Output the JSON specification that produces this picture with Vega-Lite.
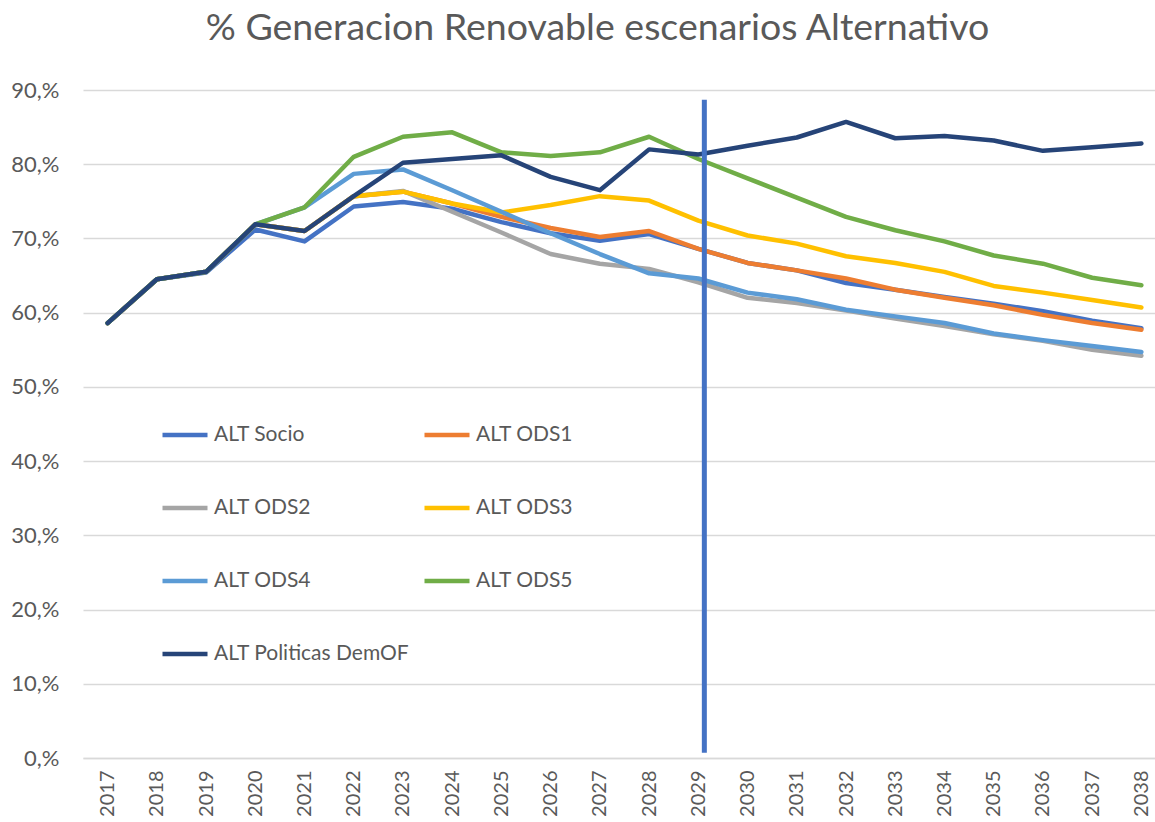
{
  "$schema": "https://vega.github.io/schema/vega-lite/v6.json",
  "autosize": {"type": "none"},
  "width": 1083,
  "height": 668,
  "padding": {"left": 83, "top": 90, "right": 0, "bottom": 64},
  "background": "white",
  "config": {
    "view": {"stroke": null},
    "font": "Lato",
    "text": {"font": "Lato"}
  },
  "title": {
    "text": "% Generacion Renovable escenarios Alternativo",
    "font": "Lato",
    "fontSize": 37.5,
    "fontWeight": "normal",
    "color": "#595959",
    "anchor": "middle",
    "frame": "group",
    "dx": -27,
    "offset": 32
  },
  "datasets": {
    "series": [
      {"year": "2017", "scenario": "ALT Socio", "value": 58.6},
      {"year": "2018", "scenario": "ALT Socio", "value": 64.5},
      {"year": "2019", "scenario": "ALT Socio", "value": 65.4},
      {"year": "2020", "scenario": "ALT Socio", "value": 71.2},
      {"year": "2021", "scenario": "ALT Socio", "value": 69.6},
      {"year": "2022", "scenario": "ALT Socio", "value": 74.3},
      {"year": "2023", "scenario": "ALT Socio", "value": 74.9},
      {"year": "2024", "scenario": "ALT Socio", "value": 74.0},
      {"year": "2025", "scenario": "ALT Socio", "value": 72.2},
      {"year": "2026", "scenario": "ALT Socio", "value": 70.7},
      {"year": "2027", "scenario": "ALT Socio", "value": 69.7},
      {"year": "2028", "scenario": "ALT Socio", "value": 70.6},
      {"year": "2029", "scenario": "ALT Socio", "value": 68.6},
      {"year": "2030", "scenario": "ALT Socio", "value": 66.7},
      {"year": "2031", "scenario": "ALT Socio", "value": 65.7},
      {"year": "2032", "scenario": "ALT Socio", "value": 64.0},
      {"year": "2033", "scenario": "ALT Socio", "value": 63.1},
      {"year": "2034", "scenario": "ALT Socio", "value": 62.1},
      {"year": "2035", "scenario": "ALT Socio", "value": 61.2},
      {"year": "2036", "scenario": "ALT Socio", "value": 60.2},
      {"year": "2037", "scenario": "ALT Socio", "value": 58.9},
      {"year": "2038", "scenario": "ALT Socio", "value": 57.9},

      {"year": "2017", "scenario": "ALT ODS1", "value": 58.6},
      {"year": "2018", "scenario": "ALT ODS1", "value": 64.5},
      {"year": "2019", "scenario": "ALT ODS1", "value": 65.5},
      {"year": "2020", "scenario": "ALT ODS1", "value": 71.9},
      {"year": "2021", "scenario": "ALT ODS1", "value": 71.0},
      {"year": "2022", "scenario": "ALT ODS1", "value": 75.7},
      {"year": "2023", "scenario": "ALT ODS1", "value": 76.3},
      {"year": "2024", "scenario": "ALT ODS1", "value": 74.7},
      {"year": "2025", "scenario": "ALT ODS1", "value": 72.9},
      {"year": "2026", "scenario": "ALT ODS1", "value": 71.4},
      {"year": "2027", "scenario": "ALT ODS1", "value": 70.2},
      {"year": "2028", "scenario": "ALT ODS1", "value": 71.0},
      {"year": "2029", "scenario": "ALT ODS1", "value": 68.6},
      {"year": "2030", "scenario": "ALT ODS1", "value": 66.7},
      {"year": "2031", "scenario": "ALT ODS1", "value": 65.7},
      {"year": "2032", "scenario": "ALT ODS1", "value": 64.6},
      {"year": "2033", "scenario": "ALT ODS1", "value": 63.1},
      {"year": "2034", "scenario": "ALT ODS1", "value": 62.0},
      {"year": "2035", "scenario": "ALT ODS1", "value": 61.0},
      {"year": "2036", "scenario": "ALT ODS1", "value": 59.7},
      {"year": "2037", "scenario": "ALT ODS1", "value": 58.6},
      {"year": "2038", "scenario": "ALT ODS1", "value": 57.7},

      {"year": "2017", "scenario": "ALT ODS2", "value": 58.6},
      {"year": "2018", "scenario": "ALT ODS2", "value": 64.5},
      {"year": "2019", "scenario": "ALT ODS2", "value": 65.5},
      {"year": "2020", "scenario": "ALT ODS2", "value": 71.9},
      {"year": "2021", "scenario": "ALT ODS2", "value": 71.0},
      {"year": "2022", "scenario": "ALT ODS2", "value": 75.7},
      {"year": "2023", "scenario": "ALT ODS2", "value": 76.4},
      {"year": "2024", "scenario": "ALT ODS2", "value": 73.6},
      {"year": "2025", "scenario": "ALT ODS2", "value": 70.8},
      {"year": "2026", "scenario": "ALT ODS2", "value": 67.9},
      {"year": "2027", "scenario": "ALT ODS2", "value": 66.6},
      {"year": "2028", "scenario": "ALT ODS2", "value": 65.9},
      {"year": "2029", "scenario": "ALT ODS2", "value": 64.1},
      {"year": "2030", "scenario": "ALT ODS2", "value": 62.0},
      {"year": "2031", "scenario": "ALT ODS2", "value": 61.3},
      {"year": "2032", "scenario": "ALT ODS2", "value": 60.3},
      {"year": "2033", "scenario": "ALT ODS2", "value": 59.2},
      {"year": "2034", "scenario": "ALT ODS2", "value": 58.2},
      {"year": "2035", "scenario": "ALT ODS2", "value": 57.1},
      {"year": "2036", "scenario": "ALT ODS2", "value": 56.2},
      {"year": "2037", "scenario": "ALT ODS2", "value": 55.0},
      {"year": "2038", "scenario": "ALT ODS2", "value": 54.2},

      {"year": "2017", "scenario": "ALT ODS3", "value": 58.6},
      {"year": "2018", "scenario": "ALT ODS3", "value": 64.5},
      {"year": "2019", "scenario": "ALT ODS3", "value": 65.5},
      {"year": "2020", "scenario": "ALT ODS3", "value": 71.9},
      {"year": "2021", "scenario": "ALT ODS3", "value": 71.0},
      {"year": "2022", "scenario": "ALT ODS3", "value": 75.7},
      {"year": "2023", "scenario": "ALT ODS3", "value": 76.3},
      {"year": "2024", "scenario": "ALT ODS3", "value": 74.7},
      {"year": "2025", "scenario": "ALT ODS3", "value": 73.5},
      {"year": "2026", "scenario": "ALT ODS3", "value": 74.5},
      {"year": "2027", "scenario": "ALT ODS3", "value": 75.7},
      {"year": "2028", "scenario": "ALT ODS3", "value": 75.1},
      {"year": "2029", "scenario": "ALT ODS3", "value": 72.4},
      {"year": "2030", "scenario": "ALT ODS3", "value": 70.4},
      {"year": "2031", "scenario": "ALT ODS3", "value": 69.3},
      {"year": "2032", "scenario": "ALT ODS3", "value": 67.6},
      {"year": "2033", "scenario": "ALT ODS3", "value": 66.7},
      {"year": "2034", "scenario": "ALT ODS3", "value": 65.5},
      {"year": "2035", "scenario": "ALT ODS3", "value": 63.6},
      {"year": "2036", "scenario": "ALT ODS3", "value": 62.7},
      {"year": "2037", "scenario": "ALT ODS3", "value": 61.7},
      {"year": "2038", "scenario": "ALT ODS3", "value": 60.7},

      {"year": "2017", "scenario": "ALT ODS4", "value": 58.6},
      {"year": "2018", "scenario": "ALT ODS4", "value": 64.5},
      {"year": "2019", "scenario": "ALT ODS4", "value": 65.5},
      {"year": "2020", "scenario": "ALT ODS4", "value": 71.9},
      {"year": "2021", "scenario": "ALT ODS4", "value": 74.2},
      {"year": "2022", "scenario": "ALT ODS4", "value": 78.7},
      {"year": "2023", "scenario": "ALT ODS4", "value": 79.3},
      {"year": "2024", "scenario": "ALT ODS4", "value": 76.5},
      {"year": "2025", "scenario": "ALT ODS4", "value": 73.6},
      {"year": "2026", "scenario": "ALT ODS4", "value": 70.7},
      {"year": "2027", "scenario": "ALT ODS4", "value": 67.9},
      {"year": "2028", "scenario": "ALT ODS4", "value": 65.3},
      {"year": "2029", "scenario": "ALT ODS4", "value": 64.6},
      {"year": "2030", "scenario": "ALT ODS4", "value": 62.7},
      {"year": "2031", "scenario": "ALT ODS4", "value": 61.8},
      {"year": "2032", "scenario": "ALT ODS4", "value": 60.4},
      {"year": "2033", "scenario": "ALT ODS4", "value": 59.5},
      {"year": "2034", "scenario": "ALT ODS4", "value": 58.6},
      {"year": "2035", "scenario": "ALT ODS4", "value": 57.2},
      {"year": "2036", "scenario": "ALT ODS4", "value": 56.3},
      {"year": "2037", "scenario": "ALT ODS4", "value": 55.5},
      {"year": "2038", "scenario": "ALT ODS4", "value": 54.7},

      {"year": "2017", "scenario": "ALT ODS5", "value": 58.6},
      {"year": "2018", "scenario": "ALT ODS5", "value": 64.5},
      {"year": "2019", "scenario": "ALT ODS5", "value": 65.5},
      {"year": "2020", "scenario": "ALT ODS5", "value": 71.9},
      {"year": "2021", "scenario": "ALT ODS5", "value": 74.2},
      {"year": "2022", "scenario": "ALT ODS5", "value": 81.0},
      {"year": "2023", "scenario": "ALT ODS5", "value": 83.7},
      {"year": "2024", "scenario": "ALT ODS5", "value": 84.3},
      {"year": "2025", "scenario": "ALT ODS5", "value": 81.6},
      {"year": "2026", "scenario": "ALT ODS5", "value": 81.1},
      {"year": "2027", "scenario": "ALT ODS5", "value": 81.6},
      {"year": "2028", "scenario": "ALT ODS5", "value": 83.7},
      {"year": "2029", "scenario": "ALT ODS5", "value": 80.7},
      {"year": "2030", "scenario": "ALT ODS5", "value": 78.1},
      {"year": "2031", "scenario": "ALT ODS5", "value": 75.5},
      {"year": "2032", "scenario": "ALT ODS5", "value": 72.9},
      {"year": "2033", "scenario": "ALT ODS5", "value": 71.1},
      {"year": "2034", "scenario": "ALT ODS5", "value": 69.6},
      {"year": "2035", "scenario": "ALT ODS5", "value": 67.7},
      {"year": "2036", "scenario": "ALT ODS5", "value": 66.6},
      {"year": "2037", "scenario": "ALT ODS5", "value": 64.7},
      {"year": "2038", "scenario": "ALT ODS5", "value": 63.7},

      {"year": "2017", "scenario": "ALT Politicas DemOF", "value": 58.6},
      {"year": "2018", "scenario": "ALT Politicas DemOF", "value": 64.5},
      {"year": "2019", "scenario": "ALT Politicas DemOF", "value": 65.5},
      {"year": "2020", "scenario": "ALT Politicas DemOF", "value": 71.9},
      {"year": "2021", "scenario": "ALT Politicas DemOF", "value": 71.0},
      {"year": "2022", "scenario": "ALT Politicas DemOF", "value": 75.7},
      {"year": "2023", "scenario": "ALT Politicas DemOF", "value": 80.2},
      {"year": "2024", "scenario": "ALT Politicas DemOF", "value": 80.7},
      {"year": "2025", "scenario": "ALT Politicas DemOF", "value": 81.2},
      {"year": "2026", "scenario": "ALT Politicas DemOF", "value": 78.3},
      {"year": "2027", "scenario": "ALT Politicas DemOF", "value": 76.5},
      {"year": "2028", "scenario": "ALT Politicas DemOF", "value": 82.0},
      {"year": "2029", "scenario": "ALT Politicas DemOF", "value": 81.3},
      {"year": "2030", "scenario": "ALT Politicas DemOF", "value": 82.5},
      {"year": "2031", "scenario": "ALT Politicas DemOF", "value": 83.6},
      {"year": "2032", "scenario": "ALT Politicas DemOF", "value": 85.7},
      {"year": "2033", "scenario": "ALT Politicas DemOF", "value": 83.5},
      {"year": "2034", "scenario": "ALT Politicas DemOF", "value": 83.8},
      {"year": "2035", "scenario": "ALT Politicas DemOF", "value": 83.2},
      {"year": "2036", "scenario": "ALT Politicas DemOF", "value": 81.8},
      {"year": "2037", "scenario": "ALT Politicas DemOF", "value": 82.3},
      {"year": "2038", "scenario": "ALT Politicas DemOF", "value": 82.8}
    ],
    "marker": [
      {"year": "2029", "top": 88.7, "bottom": 0.7}
    ]
  },
  "layer": [
    {
      "data": {"name": "series"},
      "mark": {"type": "line", "strokeWidth": 4.5, "strokeCap": "round", "strokeJoin": "round"},
      "encoding": {
        "x": {
          "field": "year",
          "type": "ordinal",
          "scale": {"type": "point", "padding": 0.5},
          "axis": {
            "title": null,
            "labelAngle": -90,
            "labelAlign": "right",
            "labelBaseline": "middle",
            "labelFont": "Lato",
            "labelFontSize": 20,
            "labelColor": "#595959",
            "labelPadding": 12,
            "ticks": false,
            "domain": true,
            "domainColor": "#d9d9d9",
            "domainWidth": 1.5,
            "grid": false
          }
        },
        "y": {
          "field": "value",
          "type": "quantitative",
          "scale": {"domain": [0, 90], "nice": false, "zero": true},
          "axis": {
            "title": null,
            "values": [0, 10, 20, 30, 40, 50, 60, 70, 80, 90],
            "labelExpr": "datum.value + ',%'",
            "labelFont": "Lato",
            "labelFontSize": 22,
            "labelColor": "#595959",
            "labelPadding": 24,
            "ticks": false,
            "domain": false,
            "grid": true,
            "gridColor": "#d9d9d9",
            "gridWidth": 1.5
          }
        },
        "color": {
          "field": "scenario",
          "type": "nominal",
          "sort": ["ALT Socio", "ALT ODS1", "ALT ODS2", "ALT ODS3", "ALT ODS4", "ALT ODS5", "ALT Politicas DemOF"],
          "scale": {
            "domain": ["ALT Socio", "ALT ODS1", "ALT ODS2", "ALT ODS3", "ALT ODS4", "ALT ODS5", "ALT Politicas DemOF"],
            "range": ["#4472C4", "#ED7D31", "#A5A5A5", "#FFC000", "#5B9BD5", "#70AD47", "#264478"]
          },
          "legend": {
            "title": null,
            "orient": "none",
            "direction": "horizontal",
            "legendX": 77,
            "legendY": 320,
            "columns": 2,
            "padding": 0,
            "symbolType": "stroke",
            "symbolSize": 2025,
            "symbolStrokeWidth": 4.5,
            "labelFont": "Lato",
            "labelFontSize": 21,
            "labelColor": "#595959",
            "labelOffset": 4,
            "rowPadding": 38,
            "columnPadding": 5,
            "labelLimit": 400
          }
        }
      }
    },
    {
      "data": {"name": "marker"},
      "mark": {"type": "rule", "color": "#4472C4", "strokeWidth": 5, "xOffset": 6},
      "encoding": {
        "x": {"field": "year", "type": "ordinal"},
        "y": {"field": "top", "type": "quantitative"},
        "y2": {"field": "bottom"}
      }
    }
  ]
}
